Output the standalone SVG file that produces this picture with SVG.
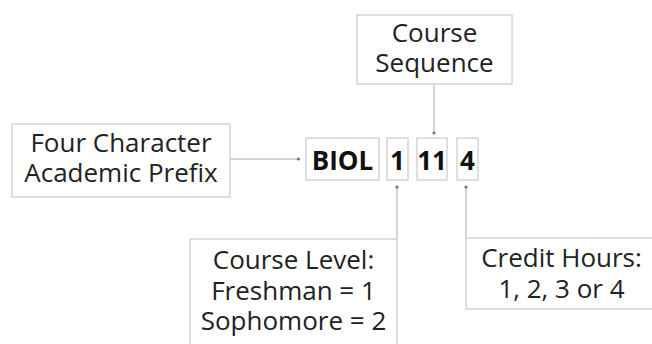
<svg xmlns="http://www.w3.org/2000/svg" width="652" height="344" viewBox="0 0 652 344">
<style>
.box{fill:#fff;stroke:#d4d4d4;stroke-width:1.5}
.t{font-family:"Open Sans","Noto Sans",sans-serif;font-size:26px;fill:#222;text-anchor:middle}
.b{font-weight:bold;fill:#111}
.c{fill:none;stroke:#c4c4c4;stroke-width:1.5}
.dot{fill:#777}
</style>
<rect width="652" height="344" fill="#fff"/>
<g id="connectors">
<line class="c" x1="230" y1="159" x2="298" y2="159"/>
<circle class="dot" cx="298.5" cy="159" r="1.6"/>
<line class="c" x1="434" y1="84" x2="434" y2="133"/>
<circle class="dot" cx="434" cy="133" r="1.6"/>
<line class="c" x1="397" y1="187" x2="397" y2="239"/>
<circle class="dot" cx="397" cy="187" r="1.6"/>
<line class="c" x1="466" y1="187" x2="466" y2="238"/>
<circle class="dot" cx="466" cy="187" r="1.6"/>
</g>
<g id="prefix-label">
<rect class="box" x="12" y="124" width="218" height="73"/>
<text class="t" x="121" y="152">Four Character</text>
<text class="t" x="121" y="182">Academic Prefix</text>
</g>
<g id="sequence-label">
<rect class="box" x="357" y="15" width="155" height="69"/>
<text class="t" x="434.5" y="42">Course</text>
<text class="t" x="434.5" y="72">Sequence</text>
</g>
<g id="biol">
<rect class="box" x="306" y="138" width="73" height="42"/>
<text class="t b" x="342.5" y="170">BIOL</text>
</g>
<g id="level">
<rect class="box" x="387" y="138" width="21" height="42"/>
<text class="t b" x="397.5" y="170">1</text>
</g>
<g id="sequence">
<rect class="box" x="417" y="138" width="30" height="42"/>
<text class="t b" x="432" y="170">11</text>
</g>
<g id="hours">
<rect class="box" x="457" y="138" width="21" height="42"/>
<text class="t b" x="467.5" y="170">4</text>
</g>
<g id="level-label">
<rect class="box" x="190" y="239" width="207" height="120"/>
<text class="t" x="293.5" y="269">Course Level:</text>
<text class="t" x="293.5" y="300">Freshman = 1</text>
<text class="t" x="293.5" y="330">Sophomore = 2</text>
</g>
<g id="hours-label">
<rect class="box" x="466" y="238" width="192" height="71"/>
<text class="t" x="561.5" y="267">Credit Hours:</text>
<text class="t" x="561.5" y="298">1, 2, 3 or 4</text>
</g>
</svg>
